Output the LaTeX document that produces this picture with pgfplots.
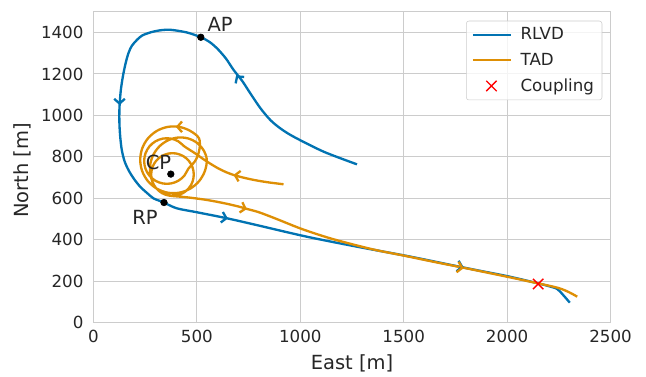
\documentclass[border=0pt]{standalone}
\usepackage{fontspec}
\setmainfont{DejaVu Sans}
\usepackage{pgfplots}
\pgfplotsset{compat=1.18}
\usetikzlibrary{arrows.meta}
\definecolor{cblue}{HTML}{0173B2}
\definecolor{corange}{HTML}{DE8F05}
\definecolor{gridc}{HTML}{CCCCCC}
\definecolor{txt}{HTML}{262626}
\begin{document}
\begin{tikzpicture}
\useasboundingbox (-70.1pt,-40pt) rectangle (414.35pt,242.05pt);
\begin{axis}[
  scale only axis, width=387.75pt, height=233.25pt,
  xmin=0, xmax=2500, ymin=0, ymax=1500,
  xtick={0,500,1000,1500,2000,2500},
  ytick={0,200,400,600,800,1000,1200,1400},
  grid=major,
  major grid style={gridc, line width=0.8pt},
  axis line style={gridc, line width=1pt},
  tick style={draw=none},
  /pgf/number format/assume math mode=true,
  /pgf/number format/1000 sep={},
  ticklabel style={font=\fontsize{12.5}{14}\selectfont, text=txt},
  yticklabel style={xshift=-4pt},
  xticklabel style={yshift=-2pt},
  label style={font=\fontsize{14.6}{16}\selectfont, text=txt},
  xlabel={East [m]}, ylabel={North [m]},
  xlabel style={at={(axis description cs:0.5,-0.129)}, anchor=center},
  ylabel style={at={(axis description cs:-0.1382,0.49)}, anchor=center},
  legend cell align=left,
  legend image code/.code={\draw[mark repeat=2,mark phase=2,#1] plot coordinates {(0pt,0pt)(14pt,0pt)(28pt,0pt)};},
  legend style={at={(1,1)}, anchor=north east, xshift=-6.2pt, yshift=-6.75pt,
    draw=gridc, rounded corners=2pt, fill=white, fill opacity=0.8, text opacity=1,
    font=\fontsize{12.5}{14}\selectfont, text=txt, row sep=4.5pt, inner xsep=4pt, inner ysep=3pt,
    /tikz/every odd column/.append style={column sep=5pt}},
]
\addplot[cblue, line width=1.75pt, smooth, tension=0.5] coordinates {
(1274,764) (1190,795) (1113,825) (1030,865) (952,906) (900,940) (855,978) (807,1035)
(758,1107) (720,1165) (677,1220) (640,1275) (597,1324) (560,1355) (519,1377) (452,1400)
(371,1413) (320,1410) (274,1400) (235,1385) (210,1364) (185,1335) (169,1300) (155,1250)
(142,1187) (132,1120) (126,1043) (125,990) (126,946) (130,890) (137,833) (150,780)
(169,737) (195,695) (226,656) (260,625) (290,600) (320,588) (342,579) (403,552)
(500,533) (645,504) (790,471) (1032,415) (1274,367) (1532,319) (1806,263) (2000,225)
(2150,190) (2200,177) (2242,163) (2270,135) (2303,97)
};
\addlegendentry{RLVD}
\addplot[corange, line width=1.75pt, smooth, tension=0.55] coordinates {
(919,668) (840,678) (760,692) (677,713) (612,740) (548,778) (490,818)
(439.3,850.7) (410,875.3) (374.1,888.3) (335.9,888.3) (300,875.3) (270.7,850.7)
(251.6,817.6) (245,780) (251.6,742.4) (270.7,709.3) (300,684.7) (335.9,671.7)
(374.1,671.7) (410,684.7) (439.3,709.3) (458.4,742.4) (492.6,782) (511.7,833.3)
(510.3,889.5) (467.5,925.4) (415,944.6) (359,944.6) (306.5,925.4) (263.7,889.5)
(235.7,841.1) (226,786) (235.7,730.9) (263.7,682.5) (306.5,646.6) (359,627.4)
(415,627.4) (467.5,646.6) (510.3,682.5) (538.3,730.9) (548,786) (532.3,832)
(500.4,867.8) (457.3,889.1) (408.9,893.3) (361.6,880.5) (320.9,852.7) (291.3,813.7)
(275.3,768.4) (273.7,722.1) (285.2,679.8) (303.1,648.8) (330.5,625.8) (364.1,613.6)
(399.9,613.6) (433.5,625.8) (460.9,648.8) (478.8,679.8) (485,715) (478.8,750.2)
(460.9,781.2) (433.5,804.2) (399.9,816.4) (364.1,816.4) (330.5,804.2) (303.1,781.2)
(285.2,750.2) (279,715) (285.2,679.8) (303.1,648.8) (330.5,625.8) (364.1,613.6)
(410,609) (470,603) (550,592) (630,577) (700,561) (742,549) (800,533) (887,500)
(1000,455) (1113,417) (1200,392) (1355,353) (1500,324) (1650,293) (1806,262)
(2000,222) (2150,190) (2240,170) (2290,152) (2339,126)
};
\addlegendentry{TAD}
\addplot[red, only marks, mark=x, mark size=5.5pt, line width=1pt] coordinates {(2150,187)};
\addlegendentry{Coupling}
% arrows
\addplot[forget plot, cblue, line width=1.75pt, -{Straight Barb[length=3.5pt,width=8pt]}] coordinates {(696,1186) (690,1194)};
\addplot[forget plot, cblue, line width=1.75pt, -{Straight Barb[length=3.5pt,width=8pt]}] coordinates {(126,1060) (126,1050)};
\addplot[forget plot, cblue, line width=1.75pt, -{Straight Barb[length=3.5pt,width=8pt]}] coordinates {(640,505) (650,503)};
\addplot[forget plot, cblue, line width=1.75pt, -{Straight Barb[length=3.5pt,width=8pt]}] coordinates {(1780,270) (1790,268)};
\addplot[forget plot, corange, line width=1.75pt, -{Straight Barb[length=3.5pt,width=8pt]}] coordinates {(687,711) (677,713)};
\addplot[forget plot, corange, line width=1.75pt, -{Straight Barb[length=3.5pt,width=8pt]}] coordinates {(408,945) (398,945)};
\addplot[forget plot, corange, line width=1.75pt, -{Straight Barb[length=3.5pt,width=8pt]}] coordinates {(732,551.4) (742,548.7)};
\addplot[forget plot, corange, line width=1.75pt, -{Straight Barb[length=3.5pt,width=8pt]}] coordinates {(1780,265) (1790,263)};
% points
\addplot[forget plot, black, only marks, mark=*, mark size=2.5pt] coordinates {(519,1377) (374,717) (341,580)};
\node[font=\fontsize{14.6}{16}\selectfont, text=txt] at (axis cs:612,1438) {AP};
\node[font=\fontsize{14.6}{16}\selectfont, text=txt] at (axis cs:314,773) {CP};
\node[font=\fontsize{14.6}{16}\selectfont, text=txt] at (axis cs:249,509) {RP};
\end{axis}
\end{tikzpicture}
\end{document}
